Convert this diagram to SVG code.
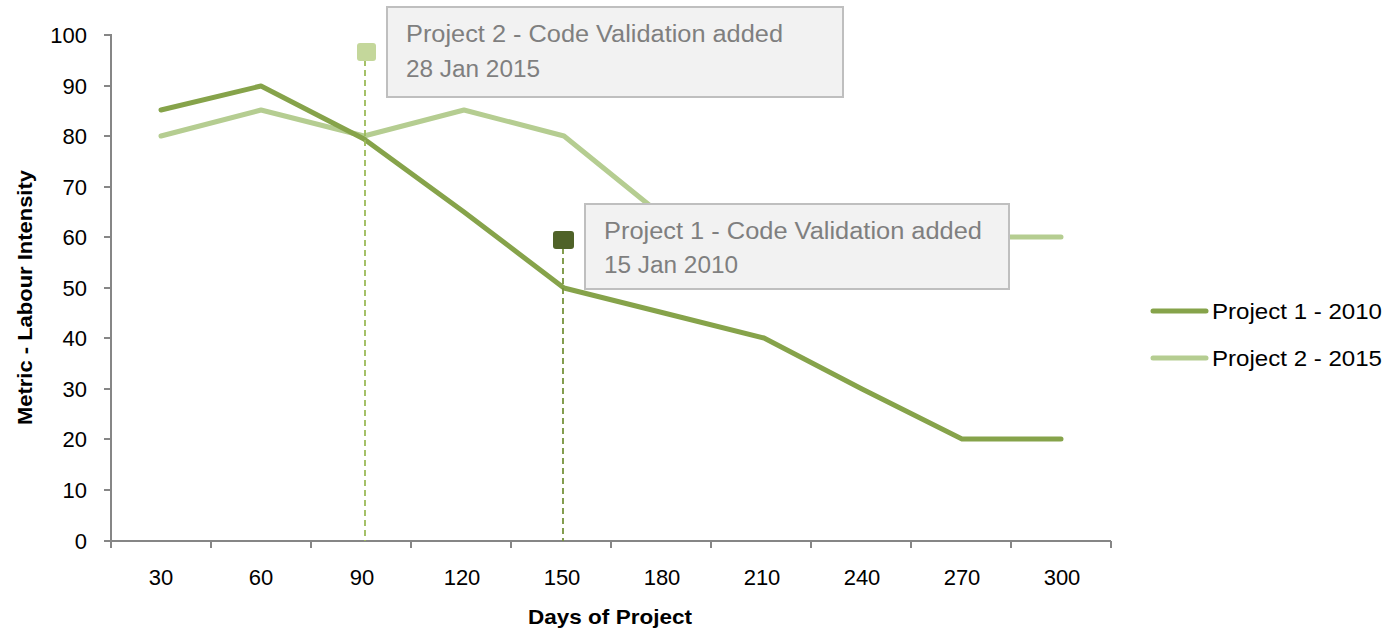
<svg xmlns="http://www.w3.org/2000/svg" width="1389" height="631" viewBox="0 0 1389 631">
  <style>
    text { font-family: "Liberation Sans", Arial, sans-serif; }
    .tick { font-size: 22px; fill: #000; }
    .axis { stroke: #868686; stroke-width: 2; fill: none; }
    .title { font-size: 21px; font-weight: bold; fill: #000; }
    .s1 { stroke: #86a34a; stroke-width: 5; fill: none; stroke-linejoin: round; stroke-linecap: round; }
    .s2 { stroke: #b5cd91; stroke-width: 5; fill: none; stroke-linejoin: round; stroke-linecap: round; }
    .note { fill: #f2f2f2; stroke: #bfbfbf; stroke-width: 2; }
    .notetext { font-size: 23px; fill: #7f7f7f; }
    .legend { font-size: 22px; fill: #000; }
  </style>

  <rect width="1389" height="631" fill="#ffffff"/>

  <!-- axes -->
  <g id="axes">
    <path class="axis" d="M111,34 V541 H1111"/>
    <path class="axis" d="M104,35 H111 M104,86 H111 M104,136 H111 M104,187 H111 M104,237 H111 M104,288 H111 M104,338 H111 M104,389 H111 M104,439 H111 M104,490 H111 M104,541 H111"/>
    <path class="axis" d="M111,541 V548 M211,541 V548 M311,541 V548 M411,541 V548 M511,541 V548 M611,541 V548 M711,541 V548 M811,541 V548 M911,541 V548 M1011,541 V548 M1111,541 V548"/>
    <g class="tick" text-anchor="end">
      <text x="87" y="43">100</text>
      <text x="87" y="94">90</text>
      <text x="87" y="144">80</text>
      <text x="87" y="195">70</text>
      <text x="87" y="245">60</text>
      <text x="87" y="296">50</text>
      <text x="87" y="346">40</text>
      <text x="87" y="397">30</text>
      <text x="87" y="447">20</text>
      <text x="87" y="498">10</text>
      <text x="87" y="549">0</text>
    </g>
    <g class="tick" text-anchor="middle">
      <text x="161" y="585">30</text>
      <text x="261" y="585">60</text>
      <text x="362" y="585">90</text>
      <text x="462" y="585">120</text>
      <text x="562" y="585">150</text>
      <text x="662" y="585">180</text>
      <text x="762" y="585">210</text>
      <text x="862" y="585">240</text>
      <text x="962" y="585">270</text>
      <text x="1062" y="585">300</text>
    </g>
    <text class="title" x="528" y="624" textLength="164" lengthAdjust="spacingAndGlyphs">Days  of Project</text>
    <text class="title" transform="translate(32,425) rotate(-90)" textLength="255" lengthAdjust="spacingAndGlyphs">Metric - Labour Intensity</text>
  </g>

  <!-- data series -->
  <g id="series-2">
    <polyline class="s2" points="161,136 261,110 364,136 464,110 564,136 664,217 764,237 862,237 962,237 1061,237"/>
  </g>
  <g id="series-1">
    <polyline class="s1" points="161,110 261,86 364,139 464,212 564,288 664,313 764,338 862,389 962,439 1061,439"/>
  </g>

  <!-- event markers -->
  <g id="connectors">
    <line x1="365" y1="60" x2="365" y2="541" stroke="#9bbb59" stroke-width="1.8" stroke-dasharray="6,4"/>
    <line x1="563" y1="248" x2="563" y2="541" stroke="#77933c" stroke-width="1.8" stroke-dasharray="6,4"/>
  </g>
  <g id="marker-2">
    <rect x="357" y="43" width="19" height="18" rx="3" fill="#c4d79b"/>
  </g>
  <g id="marker-1">
    <rect x="553" y="231" width="21" height="18" rx="3" fill="#4f6228"/>
  </g>

  <!-- annotation boxes -->
  <g id="note-2">
    <rect class="note" x="387" y="7" width="456" height="90"/>
    <text class="notetext" x="406" y="42" textLength="377" lengthAdjust="spacingAndGlyphs">Project 2 - Code  Validation added</text>
    <text class="notetext" x="406" y="77" textLength="134" lengthAdjust="spacingAndGlyphs">28 Jan 2015</text>
  </g>
  <g id="note-1">
    <rect class="note" x="585" y="204" width="424" height="85"/>
    <text class="notetext" x="604" y="239" textLength="378" lengthAdjust="spacingAndGlyphs">Project 1 - Code  Validation added</text>
    <text class="notetext" x="604" y="273" textLength="134" lengthAdjust="spacingAndGlyphs">15 Jan 2010</text>
  </g>

  <!-- legend -->
  <g id="legend-1">
    <line class="s1" x1="1153" y1="311" x2="1206" y2="311"/>
    <text class="legend" x="1212" y="319" textLength="170" lengthAdjust="spacingAndGlyphs">Project 1 - 2010</text>
  </g>
  <g id="legend-2">
    <line class="s2" x1="1153" y1="358" x2="1206" y2="358"/>
    <text class="legend" x="1212" y="366" textLength="170" lengthAdjust="spacingAndGlyphs">Project 2 - 2015</text>
  </g>
</svg>
